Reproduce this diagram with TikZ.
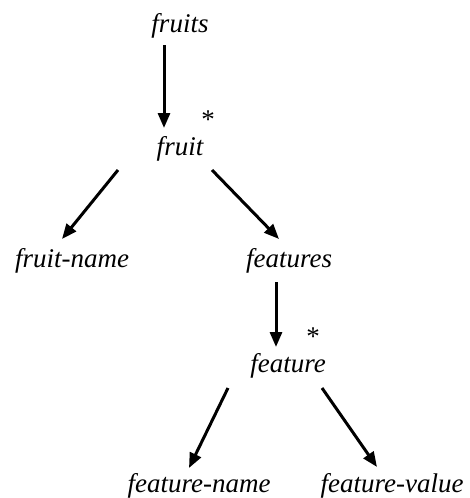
\documentclass[tikz,border=0pt]{standalone}
\usepackage{fontspec}
\newfontfamily\termfont{Liberation Serif}
\usetikzlibrary{arrows.meta,calc}
\tikzset{
  term/.style={inner sep=0pt, anchor=base, font=\termfont\fontsize{27}{30}\selectfont\itshape},
  rep/.style={inner sep=0pt, anchor=base, font=\termfont\fontsize{27}{30}\selectfont},
  arr/.style={line width=3pt, -{Triangle[length=15pt,width=12pt]}}
}
\begin{document}
\begin{tikzpicture}[x=1pt,y=-1pt]
  \useasboundingbox (0,0) rectangle (469,498);
  % tree nodes, placed at their baselines
  \node[term] (fruits)   at (180,32)  {fruits};
  \node[term] (fruit)    at (180,155) {fruit};
  \node[term] (fname)    at (72,267)  {fruit-name};
  \node[term] (features) at (289,267) {features};
  \node[term] (feature)  at (288,372) {feature};
  \node[term] (ftname)   at (199,492) {feature-name};
  \node[term] (ftvalue)  at (392,492) {feature-value};
  % repetition marks
  \node[rep] (star1) at (208,128) {*};
  \node[rep] (star2) at (313,345) {*};
  % edges
  \draw[arr] ($(fruits.base)+(-16,13)$)   -- ($(fruit.base)+(-16,-27)$);
  \draw[arr] ($(fruit.base)+(-62,15)$)    -- ($(fname.base)+(-10,-28)$);
  \draw[arr] ($(fruit.base)+(32,15)$)     -- ($(features.base)+(-10,-28)$);
  \draw[arr] ($(features.base)+(-13,15)$) -- ($(feature.base)+(-12,-25)$);
  \draw[arr] ($(feature.base)+(-60,16)$)  -- ($(ftname.base)+(-10,-24)$);
  \draw[arr] ($(feature.base)+(34,16)$)   -- ($(ftvalue.base)+(-15,-25)$);
\end{tikzpicture}
\end{document}
